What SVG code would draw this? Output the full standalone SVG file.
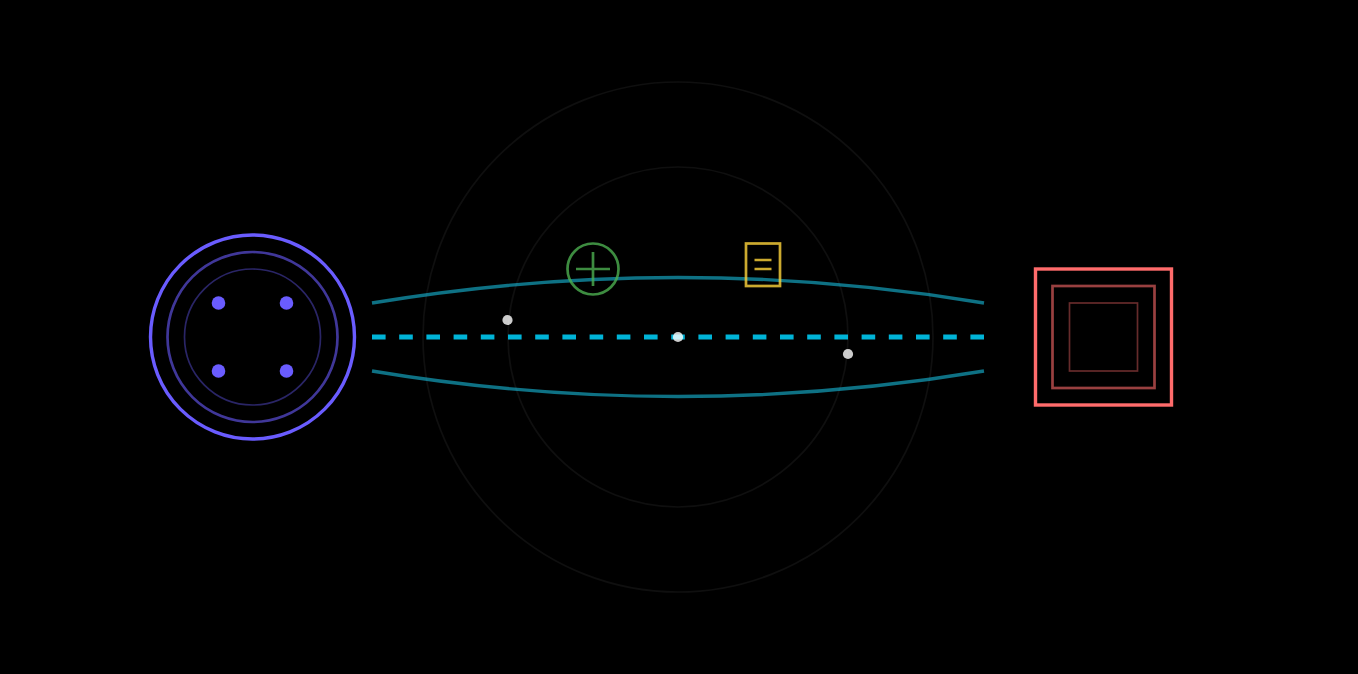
<svg xmlns="http://www.w3.org/2000/svg" width="1358" height="674" viewBox="0 0 1358 674">
<style>
.guide{fill:none;stroke:#fff;stroke-opacity:.06;stroke-width:1.7}
.ring{fill:none;stroke:#6a5cff}
.box{fill:none;stroke:#ff6b6b}
.beam{fill:none;stroke:#18bcdc;stroke-width:3.4;stroke-opacity:.6}
.dot{fill:#fff;fill-opacity:.8}
</style>
<rect width="1358" height="674" fill="#000"/>
<g id="guides">
<circle class="guide" cx="678" cy="337" r="255"/>
<circle class="guide" cx="678" cy="337" r="170"/>
</g>
<g id="connectors">
<path class="beam" d="M372 303Q678 252 984 303"/>
<path class="beam" d="M372 371Q678 422 984 371"/>
<path d="M372 337H984" fill="none" stroke="#00b4d8" stroke-width="5.1" stroke-dasharray="13.6 13.6"/>
</g>
<g id="source">
<circle class="ring" cx="252.500" cy="337" r="102" stroke-width="3.4"/>
<circle class="ring" cx="252.500" cy="337" r="85" stroke-width="2.7" stroke-opacity=".6"/>
<circle class="ring" cx="252.500" cy="337" r="68" stroke-width="1.7" stroke-opacity=".4"/>
<g fill="#6a5cff">
<circle cx="218.500" cy="303" r="6.800"/>
<circle cx="286.500" cy="303" r="6.800"/>
<circle cx="218.500" cy="371" r="6.800"/>
<circle cx="286.500" cy="371" r="6.800"/>
</g>
</g>
<g id="lens-plus" fill="none" stroke="#4caf50" stroke-width="2.7" stroke-opacity=".8">
<circle cx="593" cy="269" r="25.500"/>
<path d="M576 269H610M593 252V286"/>
</g>
<g id="lens-equals" fill="none" stroke="#ffd43b" stroke-width="2.7" stroke-opacity=".8">
<rect x="746" y="243.500" width="34" height="42.500"/>
<path d="M754.500 260H771.500M754.500 269H771.500"/>
</g>
<g id="particles">
<circle class="dot" cx="507.500" cy="320" r="5.100"/>
<circle class="dot" cx="678" cy="337" r="5.100"/>
<circle class="dot" cx="848" cy="354" r="5.100"/>
</g>
<g id="target">
<rect class="box" x="1035.500" y="269" width="136" height="136" stroke-width="3.4"/>
<rect class="box" x="1052.500" y="286" width="102" height="102" stroke-width="2.7" stroke-opacity=".6"/>
<rect class="box" x="1069.500" y="303" width="68" height="68" stroke-width="1.7" stroke-opacity=".4"/>
</g>
</svg>
